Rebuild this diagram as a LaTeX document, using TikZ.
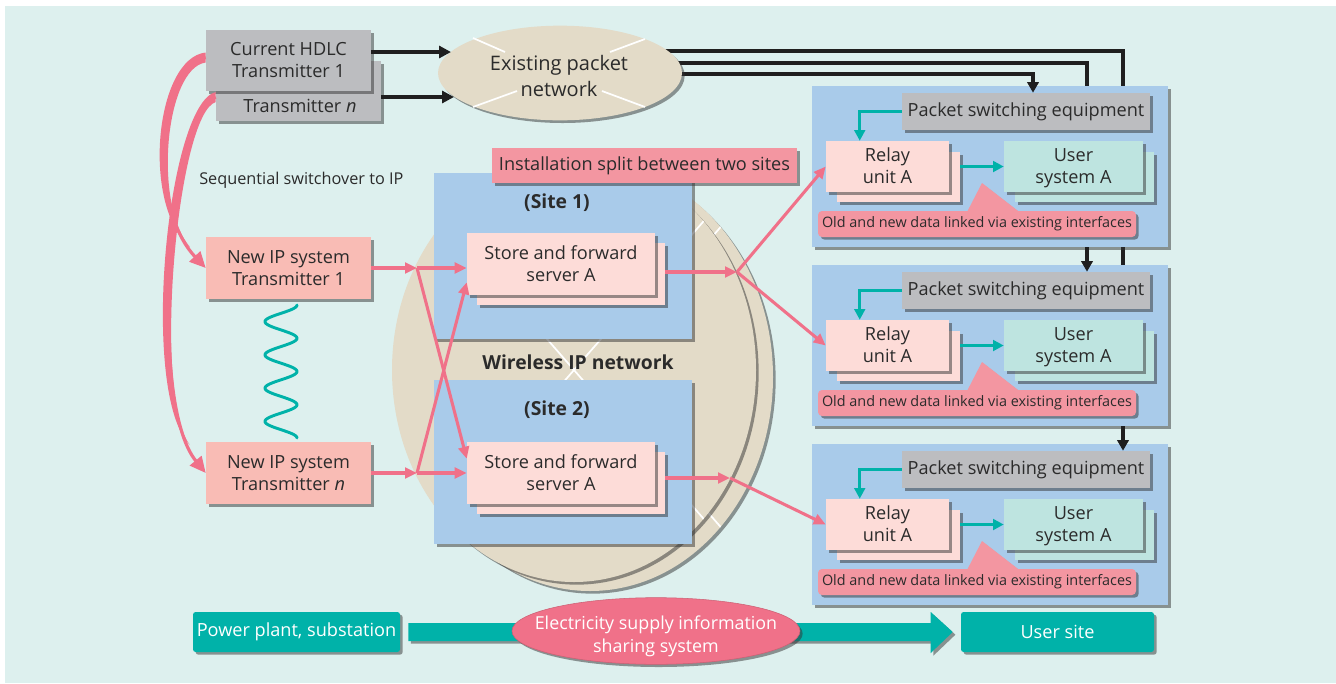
\documentclass[tikz,border=0pt]{standalone}
\usepackage{fontspec}
\setmainfont{Open Sans}
\usetikzlibrary{arrows.meta,shadows,calc,shapes.geometric}

\definecolor{bgc}{HTML}{DDF0EE}
\definecolor{grayb}{HTML}{BCBDC0}
\definecolor{blueb}{HTML}{A9CBEA}
\definecolor{pinkl}{HTML}{FDDCD8}
\definecolor{salmon}{HTML}{F9BCB5}
\definecolor{tealL}{HTML}{BEE4E0}
\definecolor{pinkLab}{HTML}{F396A1}
\definecolor{pinkArr}{HTML}{F07189}
\definecolor{tealD}{HTML}{00B2A9}
\definecolor{beige}{HTML}{E3DBC8}
\definecolor{txt}{HTML}{2B2B2B}

% box from corner (x1,y1) to (x2,y2), coordinates in pixels
\newcommand\bx[6][]{\node[#1,minimum width={((#5)-(#3))*0.75pt},minimum height={((#6)-(#4))*0.75pt}] (#2) at ({((#3)+(#5))/2},{((#4)+(#6))/2})}

\tikzset{
  dshadow/.style={drop shadow={shadow xshift=2pt,shadow yshift=-2pt,opacity=0.5,fill=black!80}},
  lbl/.style={text=txt,font=\fontsize{13.6}{16.5}\selectfont,align=center,inner sep=0pt},
  tbox/.style={lbl,dshadow},
  graybox/.style={tbox,fill=grayb},
  bluebox/.style={dshadow,fill=blueb,inner sep=0pt},
  lightbox/.style={tbox,fill=pinkl},
  newbox/.style={tbox,fill=salmon},
  userbox/.style={tbox,fill=tealL},
  callout/.style={tbox,fill=pinkLab,rounded corners=3pt,font=\fontsize{10.8}{13}\selectfont},
  boldlbl/.style={lbl,font=\fontsize{14.5}{17}\selectfont\bfseries},
  pinkarrow/.style={draw=pinkArr,line width=2.3pt,-{Triangle[length=9pt,width=8pt]}},
  blkline/.style={draw=black!88,line width=2.6pt},
  blkarrow/.style={blkline,-{Triangle[length=8pt,width=8.5pt]}},
  hdlcarrow/.style={draw=black!88,line width=3pt,-{Triangle[length=9pt,width=9pt]}},
  tealarrow/.style={draw=tealD,line width=2.6pt,-{Triangle[length=8pt,width=8pt]}},
  whitemark/.style={draw=white,line width=1.3pt},
  curvearrow/.style={draw=pinkArr,line width=2.4pt,-{Triangle[length=12pt,width=11pt]}},
}

\begin{document}
\begin{tikzpicture}[x=0.75pt,y=-0.75pt]
\useasboundingbox (0,0) rectangle (1336,683);
\fill[white] (0,0) rectangle (1336,683);
\fill[bgc] (5,6) rectangle (1336,683);

% ---------- packet network feeds (drawn first, so blocks cover them) ----------
\coordinate (pnc) at (560,73);
\coordinate (r1) at (1123,51);
\coordinate (r2) at (1087,63);
\coordinate (r3) at (1033,74);
\coordinate (p1top) at (1033,93);
\coordinate (p2top) at (1087,272);
\coordinate (p3top) at (1123,452);
\draw[blkline] (pnc |- r1) -- (r1) -- (p3top);
\draw[blkline] (pnc |- r2) -- (r2) -- (p2top);
\draw[blkline] (pnc |- r3) -- (r3) -- (p1top);

% ---------- current HDLC transmitters ----------
\bx[graybox]{hdn}{216}{61}{381}{121} {};
\node[lbl] (hdnt) at (300,106) {Transmitter \textit{n}};
\bx[graybox]{hd1}{206}{30}{371}{91} {Current HDLC\\Transmitter 1};

% ---------- existing packet network ----------
\node[ellipse,fill=beige,dshadow,minimum width=183pt,minimum height=71pt,inner sep=0pt] (pn) at (pnc) {};
\draw[whitemark] (473,38) -- (505,52) (610,52) -- (645,39) (473,107) -- (517,91) (602,91) -- (645,107);
\node[lbl,font=\fontsize{15}{18.8}\selectfont] (pnt) at (559,76) {Existing packet\\network};

\coordinate (pin1) at (451,52);
\coordinate (pin2) at (454,97);
\draw[hdlcarrow] (hd1.east |- pin1) -- (pin1);
\draw[hdlcarrow] (hdn.east |- pin2) -- (pin2);

% ---------- wireless IP network ----------
\fill[beige,dshadow] (590,377) ellipse [x radius=183,y radius=214];
\begin{scope}
  \clip (590,377) ellipse [x radius=183,y radius=214];
  \draw[whitemark] (340,90) -- (840,664) (340,664) -- (840,90);
\end{scope}
\fill[beige,dshadow] (574,370) ellipse [x radius=182,y radius=212];
\begin{scope}
  \clip (574,370) ellipse [x radius=182,y radius=212];
  \draw[whitemark] (324,83) -- (824,657) (324,657) -- (824,83);
\end{scope}

% site 1
\bx[bluebox]{st1}{434}{173}{692}{339} {};
\node[boldlbl] (st1t) at (557,203) {(Site 1)};
\bx[lightbox]{sf1b}{477}{243}{665}{305} {};
\bx[lightbox]{sf1}{467}{233}{655}{295} {Store and forward\\server A};
% site 2
\bx[bluebox]{st2}{434}{380}{692}{544} {};
\node[boldlbl] (st2t) at (557,410) {(Site 2)};
\bx[lightbox]{sf2b}{477}{452}{665}{514} {};
\bx[lightbox]{sf2}{467}{442}{655}{504} {Store and forward\\server A};

\node[boldlbl] (wlt) at (578,362) {Wireless IP network};
\bx[tbox,fill=pinkLab]{isl}{492}{148}{797}{183} {Installation split between two sites};

% ---------- new IP transmitters ----------
\bx[newbox]{tr1}{206}{237}{371}{299} {New IP system\\Transmitter 1};
\bx[newbox]{trn}{206}{442}{371}{504} {New IP system\\Transmitter \textit{n}};
\draw[tealD,line width=2.2pt,line cap=round]
  plot[variable=\s,domain=0:4,samples=160] ({281+16*cos(360*\s)},{305+33.25*\s});

\node[lbl,anchor=west,font=\fontsize{12.2}{14}\selectfont] (seq) at (199,180) {Sequential switchover to IP};

\coordinate (j1) at (417,268);
\coordinate (jn) at (417,473);
\draw[pinkarrow] (tr1.east) -- (j1);
\draw[pinkarrow] (j1) -- (sf1.west |- j1);
\draw[pinkarrow] (j1) -- ($(sf2.north west)+(0,17)$);
\draw[pinkarrow] (trn.east) -- (jn);
\draw[pinkarrow] (jn) -- (sf2.west |- jn);
\draw[pinkarrow] (jn) -- ($(sf1.south west)+(0,-13)$);

% ---------- receiving sites ----------
\foreach \i/\t in {1/86,2/265,3/444}{
  \bx[bluebox]{b\i}{812}{\t}{1168}{\t+161} {};
  \bx[graybox]{ps\i}{902}{\t+7}{1150}{\t+44} {Packet switching equipment};
  \bx[lightbox]{rlb\i}{837}{\t+66}{960}{\t+116} {};
  \bx[lightbox]{rl\i}{826}{\t+55}{949}{\t+106} {};
  \node[lbl] (rlt\i) at ($(rl\i.center)+(0,2)$) {\strut Relay\\\strut unit A};
  \bx[userbox]{usb\i}{1015}{\t+66}{1154}{\t+116} {};
  \bx[userbox]{us\i}{1004}{\t+55}{1143}{\t+106} {};
  \node[lbl] (ust\i) at ($(us\i.center)+(0,2)$) {\strut User\\\strut system A};
  \fill[pinkLab,dshadow] (966,{\t+128}) -- (982,{\t+97}) -- (1022,{\t+128}) -- cycle;
  \bx[callout]{co\i}{818}{\t+125}{1136}{\t+151} {Old and new data linked via existing interfaces};
  \draw[tealarrow] (ps\i.west) -| ($(rl\i.north west)+(34,0)$);
  \draw[tealarrow] (rlb\i.east |- us\i.west) -- (us\i.west);
}

\coordinate (j3) at (737,272);
\coordinate (j4) at (730,478);
\draw[pinkarrow] (sf1b.east |- j3) -- (j3);
\draw[pinkarrow] (j3) -- (rl1.west);
\draw[pinkarrow] (j3) -- (rl2.west);
\draw[pinkarrow] (sf2b.east |- j4) -- (j4);
\draw[pinkarrow] (j4) -- (rl3.west);

% arrowheads of the feeds, over the blocks
\draw[blkarrow] ($(r3 |- b1.north)+(0,-8)$) -- (r3 |- ps1.north);
\draw[blkarrow] (r2 |- b1.south) -- (r2 |- ps2.north);
\draw[blkarrow] (r1 |- b2.south) -- (r1 |- ps3.north);

% ---------- bottom flow ----------
\bx[tbox,fill=tealD,text=white,rounded corners=2pt]{pp}{193}{612}{400}{652} {Power plant, substation};
\bx[tbox,fill=tealD,text=white,rounded corners=2pt]{usite}{961}{612}{1154}{652} {User site};
\fill[tealD,dshadow] ($(pp.east)+(8,-9)$) -- ($(usite.west)+(-30,-9)$) -- ($(usite.west)+(-30,-20)$)
  -- ($(usite.west)+(-8,0)$) -- ($(usite.west)+(-30,21)$) -- ($(usite.west)+(-30,9)$)
  -- ($(pp.east)+(8,9)$) -- cycle;
\node[ellipse,fill=pinkArr,draw=pinkArr!85!black,line width=0.4pt,dshadow,minimum width=216pt,minimum height=50pt,
      inner sep=0pt] (es) at (656,631) {};
\node[lbl,text=white,font=\fontsize{13.4}{17.2}\selectfont] (est) at ($(es.center)+(0,5)$)
  {Electricity supply information\\sharing system};

% ---------- sequential switchover curves ----------
\fill[pinkArr] ($(hd1.west)+(0,-8)$) .. controls (155,58) and (141,205) .. (190,247)
  .. controls (153,205) and (165,68) .. ($(hd1.west)+(0,2)$) -- cycle;
\draw[curvearrow] ($(hd1.west)+(0,-3)$) .. controls (160,65) and (146,205) .. (tr1.west);
\fill[pinkArr] ($(hdn.west)+(0,1)$) .. controls (167,104) and (139,395) .. (190,445)
  .. controls (152,398) and (177,114) .. ($(hdn.west)+(0,11)$) -- cycle;
\draw[curvearrow] ($(hdn.west)+(0,6)$) .. controls (172,110) and (146,400) .. (trn.west);
\end{tikzpicture}
\end{document}
